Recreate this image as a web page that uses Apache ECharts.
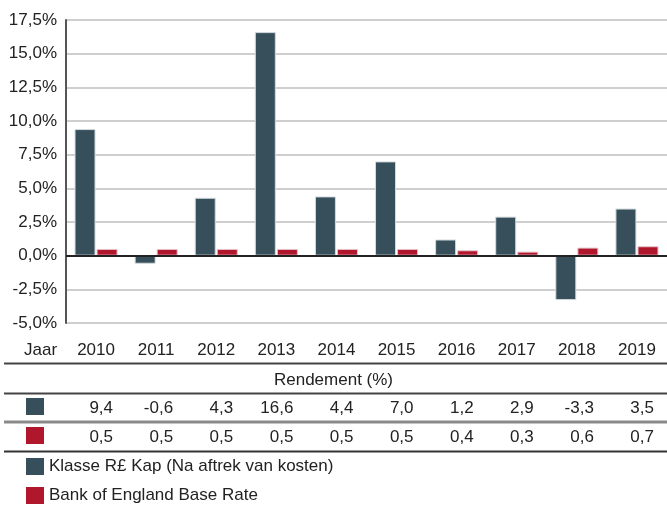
<!DOCTYPE html>
<html>
<head>
<meta charset="utf-8">
<script src="https://cdn.jsdelivr.net/npm/echarts@6/dist/echarts.min.js"></script>
<style>
  html, body { margin: 0; padding: 0; background: #fff; }
  #div1 { width: 667px; height: 506px; }
</style>
</head>
<body>
<div id="div1"></div>
<script>
var jaren = ['2010', '2011', '2012', '2013', '2014', '2015', '2016', '2017', '2018', '2019'];
var klasseKap = [9.4, -0.6, 4.3, 16.6, 4.4, 7.0, 1.2, 2.9, -3.3, 3.5];
var baseRate = [0.5, 0.5, 0.5, 0.5, 0.5, 0.5, 0.4, 0.3, 0.6, 0.7];
var naamKap = 'Klasse R£ Kap (Na aftrek van kosten)';
var naamRate = 'Bank of England Base Rate';

var kleurKap = '#364f5b';
var kleurRate = '#b0162c';
var tekst = '#222';
var font = '"Liberation Sans", Arial, Helvetica, sans-serif';

function komma(v) {
    return v.toFixed(1).replace('.', ',');
}

// extra x-as per tabelrij
function tabelAs(waarden, offset) {
    return {
        type: 'category',
        data: waarden.map(komma),
        position: 'bottom',
        offset: offset,
        axisLine: { show: false },
        axisTick: { show: false },
        axisLabel: {
            margin: 20,
            formatter: function (v) { return '{v|' + v + '}'; },
            rich: { v: { width: 34, align: 'right', fontSize: 17, color: tekst, fontFamily: font } }
        }
    };
}

// één legenda per regel
function legenda(naam, top) {
    return {
        left: 26,
        top: top,
        padding: 0,
        icon: 'rect',
        itemWidth: 18,
        itemHeight: 17,
        itemGap: 6,
        data: [naam],
        itemStyle: { borderWidth: 0 },
        textStyle: { fontSize: 17, color: tekst, fontFamily: font }
    };
}

var chart = echarts.init(document.getElementById('div1'));

function lijn(y, kleur, dikte) {
    return {
        type: 'line', silent: true,
        shape: { x1: 4, y1: y, x2: 667, y2: y },
        style: { stroke: kleur, lineWidth: dikte }
    };
}

function blokje(y, kleur) {
    return {
        type: 'rect', silent: true,
        shape: { x: 26, y: y, width: 18, height: 17 },
        style: { fill: kleur }
    };
}

var option = {
    animation: false,
    textStyle: { fontFamily: font },
    grid: { left: 66, right: 0, top: 20, bottom: 183, containLabel: false },
    legend: [legenda(naamKap, 458), legenda(naamRate, 487)],
    xAxis: [
        {
            type: 'category',
            data: jaren,
            position: 'bottom',
            axisLine: { show: false, onZero: false },
            axisTick: { show: false },
            axisLabel: { margin: 19, fontSize: 17, color: tekst, fontFamily: font }
        },
        tabelAs(klasseKap, 57),
        tabelAs(baseRate, 86)
    ],
    yAxis: {
        type: 'value',
        min: -5,
        max: 17.5,
        interval: 2.5,
        axisLine: { show: true, lineStyle: { color: '#555', width: 2 } },
        axisTick: { show: false },
        splitLine: { lineStyle: { color: '#cfcfcf', width: 2 } },
        axisLabel: {
            margin: 9,
            fontSize: 17,
            color: tekst,
            fontFamily: font,
            formatter: function (v) { return komma(v) + '%'; }
        }
    },
    series: [
        {
            name: naamKap,
            type: 'bar',
            data: klasseKap,
            barWidth: 21,
            barGap: '5%',
            itemStyle: { color: kleurKap, borderColor: '#d4dbde', borderWidth: 1 },
            markLine: {
                silent: true,
                symbol: 'none',
                label: { show: false },
                lineStyle: { color: '#222', width: 2, type: 'solid' },
                data: [{ yAxis: 0 }]
            },
            z: 3
        },
        {
            name: naamRate,
            type: 'bar',
            data: baseRate,
            barWidth: 21,
            itemStyle: { color: kleurRate, borderColor: '#e6c4c9', borderWidth: 1 },
            z: 3
        }
    ],
    graphic: [
        {
            type: 'text', silent: true, left: 24, top: 342,
            style: { text: 'Jaar', fontSize: 17, fill: tekst, fontFamily: font }
        },
        {
            type: 'text', silent: true, left: 'center', top: 372,
            style: { text: 'Rendement (%)', fontSize: 17, fill: tekst, fontFamily: font }
        },
        lijn(363.5, '#444', 2),
        lijn(393.5, '#444', 2),
        lijn(422, '#8a8a8a', 3),
        lijn(451.5, '#333', 2),
        blokje(398, kleurKap),
        blokje(427, kleurRate)
    ]
};

chart.setOption(option);
</script>
</body>
</html>
